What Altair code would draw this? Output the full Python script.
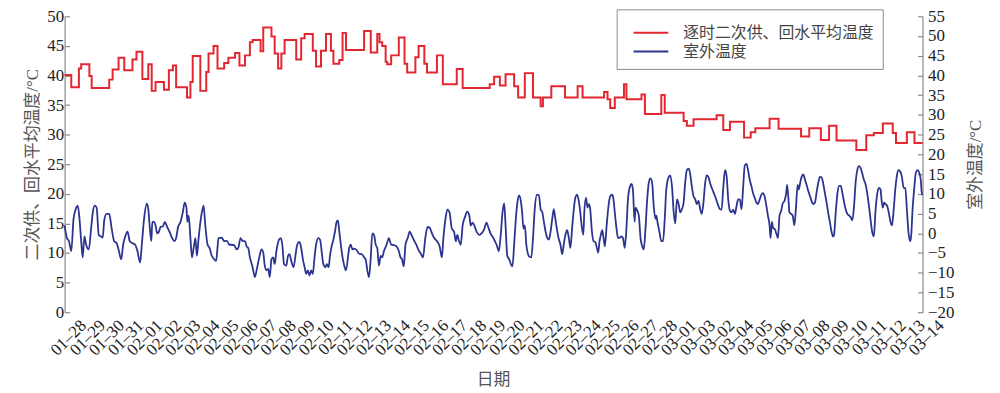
import altair as alt
import pandas as pd

# ---------------- data ----------------
SERIES = ["逐时二次供、回水平均温度", "室外温度"]
X_TITLE = ["日期"]

# supply/return average water temperature (left axis), step changes: day offset, value
red_day = [0, 0.35, 0.75, 0.87, 1.3, 1.42, 2.34, 2.52, 2.83, 3.13, 3.56, 3.77, 4.08, 4.39, 4.57,
           4.77, 5.21, 5.47, 5.68, 5.85, 6.42, 6.6, 6.72, 7.12, 7.43, 7.55, 7.81, 8.02, 8.37, 8.59,
           8.94, 9.17, 9.46, 9.72, 9.86, 10.28, 10.42, 10.85, 11.02, 11.2, 11.37, 11.54, 12.15,
           12.41, 12.59, 13.02, 13.19, 13.45, 13.71, 13.97, 14.1, 14.41, 14.58, 14.76, 15.71, 16.06,
           16.4, 16.52, 16.66, 16.84, 16.92, 17.13, 17.53, 17.83, 17.97, 18.4, 18.57, 18.87, 19.01,
           19.53, 19.84, 20.57, 20.88, 22.3, 22.53, 22.83, 23.13, 23.58, 23.79, 24.14, 24.57, 24.97,
           25.09, 25.53, 26.25, 26.91, 27.17, 28.3, 28.48, 28.62, 28.86, 29.34, 29.47, 30.26, 30.44,
           31.30, 31.48, 32.47, 32.64, 32.99, 34.2, 34.55, 34.9, 35.64, 35.99, 36.23, 36.98, 37.45,
           38.63, 39.06, 39.67, 40.1, 40.49, 41.53, 42.05, 42.45, 42.92, 43.44, 43.61, 44.18, 44.58,
           45.0]
red_val = [40.1, 38.0, 41.2, 41.9, 39.9, 37.9, 39.3, 41.0, 43.0, 40.9, 42.7, 44.0, 39.4, 41.9, 37.4,
           38.9, 37.6, 40.9, 41.7, 38.0, 36.3, 38.9, 43.3, 37.4, 40.6, 43.7, 45.0, 41.2, 42.1, 43.0,
           43.8, 41.7, 43.4, 45.6, 46.0, 44.1, 48.1, 46.6, 43.7, 41.2, 43.7, 46.0, 42.7,
           46.3, 47.0, 44.2, 41.5, 44.2, 47.0, 44.2, 42.0, 42.6, 47.2, 44.3, 47.5, 43.9,
           47.0, 45.6, 45.0, 42.3, 41.9, 43.4, 46.4, 42.0, 40.5, 43.1, 45.0, 42.0, 40.5,
           43.4, 38.5, 41.1, 37.9, 38.5, 39.8, 38.3, 40.2, 38.2, 36.3, 40.4, 36.3, 34.8,
           36.3, 38.2, 36.3, 38.2, 36.3, 37.2, 36.0, 34.5, 36.3, 38.5, 36.0, 36.8, 33.5,
           36.7, 33.7, 32.3, 31.5, 32.6, 33.3, 30.8, 32.2, 29.5, 30.4, 31.1, 32.7, 31.0,
           29.7, 31.1, 29.1, 31.5, 29.0, 27.4, 29.9, 30.3, 31.9, 30.3, 28.6, 30.4, 28.6,
           28.6]

# outdoor temperature (right axis), read in pieces
blue_day_1 = [0, 0.12, 0.23, 0.35, 0.47, 0.61, 0.69, 0.78, 0.87, 0.95, 1.04, 1.13, 1.27, 1.39, 1.48,
              1.58, 1.68, 1.79, 1.91, 2.0, 2.08, 2.2, 2.34, 2.47, 2.6, 2.73, 2.83, 2.97, 3.07, 3.18,
              3.3, 3.42, 3.56, 3.7, 3.82, 3.96, 4.05, 4.17, 4.31, 4.39, 4.46, 4.55, 4.6, 4.69, 4.77,
              4.86, 4.95, 5.03, 5.16, 5.26, 5.38, 5.5, 5.64, 5.75, 5.85, 5.95, 6.08, 6.2, 6.3, 6.39,
              6.44, 6.51, 6.6, 6.68, 6.77, 6.86, 6.94, 7.03, 7.17, 7.29]
blue_val_1 = [2.0, -1.2, -2.0, -4.5, 3.7, 6.5, 7.0, 3.7, -2.0, -6.1, -0.8, -2.9, -4.1, 1.2, 5.3,
              7.0, 6.5, -0.4, -0.8, -1.1, 3.3, 4.9, 4.9, 1.2, -2.0, -2.5, -4.1, -6.6, -2.9, -0.8,
              0.4, -2.0, -2.5, -2.9, -4.5, -7.4, -2.9, 3.7, 7.5, 6.1, 2.0, -2.0, 2.9, 2.9, 2.0,
              0.0, 0.4, 1.6, 1.8, 2.9, 1.6, 0.4, -1.2, -2.0, -1.2, 1.6, 2.9, 5.3, 7.8, 6.5,
              2.9, 4.5, -1.2, -6.1, -3.7, -1.2, -5.7, -1.2, 4.5, 7.0]

blue_day_2 = [7.38, 7.5, 7.6, 7.72, 7.85, 7.95, 8.02, 8.07, 8.24, 8.37, 8.51, 8.64, 8.77, 8.89, 9.03,
              9.11, 9.23, 9.34, 9.46, 9.55, 9.63, 9.72, 9.86, 9.98, 10.07, 10.21, 10.33, 10.42, 10.5,
              10.59, 10.68, 10.76, 10.85, 10.94, 11.02, 11.11, 11.25, 11.34, 11.42, 11.51, 11.63,
              11.72, 11.8, 11.89, 12.01, 12.12, 12.2, 12.32, 12.41, 12.5, 12.59, 12.67, 12.76, 12.85,
              12.93, 13.02, 13.11, 13.19, 13.31, 13.4, 13.5, 13.57, 13.68, 13.75, 13.85, 13.92,
              13.99, 14.1, 14.18, 14.27, 14.34, 14.41, 14.49, 14.58, 14.67, 14.76]
blue_val_2 = [2.0, -2.9, -3.7, -5.7, -6.6, -7.0, -3.7, -1.2, -1.1, -2.0, -1.9, -2.9, -2.9, -3.0, -4.1,
              -3.7, -1.2, -2.0, -2.0, -3.3, -3.7, -6.1, -8.6, -11.1, -9.4, -6.1, -4.1, -4.9, -8.2,
              -9.4, -9.0, -11.1, -6.6, -6.1, -7.8, -4.5, -1.6, -1.2, -2.9, -7.8, -8.2,
              -5.7, -5.3, -7.0, -8.6, -5.3, -2.9, -2.2, -3.7, -6.6, -8.6, -10.3, -9.4, -10.7,
              -9.4, -10.3, -6.1, -2.9, -1.2, -1.6, -5.3, -7.8, -8.6, -7.8, -8.6, -5.7,
              -3.7, -1.6, 0.4, 2.9, 3.3, 0.4, -2.9, -6.1, -8.2, -9.4]

blue_day_3 = [14.93, 15.01, 15.1, 15.19, 15.33, 15.45, 15.57, 15.71, 15.79, 15.88, 15.97, 16.06, 16.14,
              16.23, 16.32, 16.4, 16.49, 16.58, 16.66, 16.75, 16.89, 17.01, 17.13, 17.27, 17.41,
              17.53, 17.62, 17.7, 17.79, 17.88, 18.0, 18.1, 18.23, 18.35, 18.45, 18.57, 18.69, 18.8,
              18.92, 19.04, 19.15, 19.27, 19.39, 19.53, 19.67, 19.79, 19.87, 19.98, 20.08, 20.19,
              20.31, 20.43, 20.52, 20.6, 20.69, 20.78, 20.88, 21.0, 21.12, 21.23, 21.3, 21.4, 21.49,
              21.61, 21.75, 21.87, 21.99, 22.13, 22.22, 22.34]
blue_val_3 = [-3.7, -2.9, -4.1, -3.9, -4.3, -5.2, -5.2, -6.1, -6.6, -9.4, -11.1, -6.1, 0.0,
              -0.4, -2.9, -3.7, -8.2, -5.7, -6.1, -4.5, -2.9, -1.2, -2.9, -3.0, -3.3,
              -4.5, -6.1, -6.6, -8.4, -2.9, -1.2, 0.4, -0.8, -2.0, -2.9, -4.3, -5.2, -6.1,
              -1.2, 1.6, 1.4, 0.0, -1.2, -2.0, -3.3, -6.1, -1.2, 3.7, 6.0, 5.3,
              1.2, 0.4, -2.0, -0.4, -2.0, -2.9, 2.0, 4.1, 5.5, 4.5, 2.0, 2.7, 2.0,
              0.4, -0.4, 0.0, 0.8, 2.7, 1.6, 0.0]

blue_day_4 = [22.49, 22.57, 22.66, 22.78, 22.89, 22.97, 23.06, 23.13, 23.22, 23.32, 23.41, 23.49,
              23.58, 23.67, 23.75, 23.84, 23.93, 24.0, 24.07, 24.14, 24.22, 24.31, 24.4, 24.48,
              24.57, 24.66, 24.78, 24.88, 24.97, 25.06, 25.14, 25.23, 25.32, 25.4, 25.49, 25.58,
              25.66, 25.73, 25.82, 25.91, 26.01, 26.1, 26.18, 26.27, 26.36, 26.45, 26.53, 26.62,
              26.71, 26.79, 26.88, 26.97, 27.05, 27.12, 27.21, 27.26, 27.35, 27.43, 27.5, 27.57,
              27.66, 27.75, 27.83, 27.92, 27.99, 28.06, 28.13, 28.2, 28.27, 28.34, 28.42, 28.51,
              28.62, 28.72, 28.79, 28.86, 28.95, 29.03, 29.12, 29.21, 29.29, 29.38, 29.47, 29.55,
              29.66, 29.74, 29.81, 29.9]
blue_val_4 = [-1.2, -2.0, -2.9, -4.5, 0.4, 5.3, 7.6, 2.0, -5.7, -6.6, -7.8, -8.4,
              -2.9, 3.7, 7.8, 9.6, 8.2, 5.3, 1.2, 2.0, -2.9, -5.3, -6.0, -6.1,
              -1.2, 6.1, 9.8, 9.6, 6.1, 5.3, 2.9, 0.4, -1.2, -1.6, 0.4, 3.7,
              6.1, 4.1, 1.2, -1.2, -2.9, -5.3, -2.9, -0.4, 0.8, -1.2, -3.7, 1.2,
              6.1, 9.0, 9.8, 8.2, 5.3, 2.0, -0.4, 5.3, 9.0, 6.5, 7.4, 6.1,
              0.4, -2.0, -2.2, -3.7, -4.9, -2.0, -0.4, 0.8, -1.2, -3.3, 1.2, 6.1,
              9.4, 9.8, 8.6, 5.3, 1.2, -1.2, -1.1, -0.8, -1.2, -3.7, 1.2, 8.6,
              11.9, 12.5, 11.1, 2.9]

blue_day_5 = [29.95, 30.04, 30.12, 30.21, 30.3, 30.38, 30.47, 30.56, 30.64, 30.73, 30.82, 30.9,
              30.99, 31.04, 31.11, 31.2, 31.3, 31.39, 31.48, 31.56, 31.69, 31.77, 31.86, 31.95,
              32.03, 32.12, 32.21, 32.29, 32.38, 32.47, 32.55, 32.64, 32.73, 32.81, 32.9, 32.99,
              33.08, 33.16, 33.25, 33.34, 33.42, 33.51, 33.6, 33.68, 33.77, 33.86, 33.98, 34.12,
              34.26, 34.38, 34.46, 34.55, 34.64, 34.72, 34.81, 34.9, 34.98, 35.07, 35.16, 35.25,
              35.33, 35.42, 35.51, 35.59, 35.68, 35.77, 35.85, 35.94, 36.03, 36.11, 36.2, 36.29,
              36.37, 36.46, 36.55, 36.63, 36.72, 36.81, 36.89, 36.98, 37.03, 37.1, 37.17, 37.24,
              37.33, 37.42]
blue_val_5 = [6.5, 5.7, 4.5, -1.2, -3.3, -4.1, 1.2, 8.6, 12.7, 13.9, 12.7, 7.0,
              3.7, 4.5, 2.5, 0.4, -2.0, -2.0, 3.7, 11.1, 14.3, 14.7, 11.9, 5.3,
              2.5, 8.6, 7.4, 5.3, 6.1, 7.8, 12.7, 16.0, 16.4, 15.2, 11.9, 9.4,
              8.6, 7.4, 8.2, 6.1, 4.9, 7.8, 12.7, 14.7, 14.3, 12.7, 11.1, 9.4,
              7.4, 6.1, 6.0, 11.5, 16.0, 14.7, 8.6, 5.7, 5.3, 6.0, 4.9, 7.0,
              8.6, 8.6, 6.1, 11.5, 17.2, 17.6, 16.0, 13.5, 11.9, 10.2, 9.0, 7.8,
              7.4, 8.6, 9.8, 10.2, 9.3, 7.0, 4.5, 2.0, -1.2, 2.9, 1.2, 1.2,
              0.0, -1.2]

blue_day_6 = [37.5, 37.59, 37.67, 37.76, 37.85, 37.9, 37.97, 38.02, 38.11, 38.19, 38.28, 38.37,
              38.45, 38.51, 38.58, 38.66, 38.75, 38.84, 38.92, 39.01, 39.1, 39.18, 39.27, 39.36,
              39.44, 39.53, 39.62, 39.7, 39.79, 39.88, 39.97, 40.05, 40.14, 40.23, 40.31, 40.36,
              40.45, 40.54, 40.63, 40.71, 40.8, 40.89, 40.97, 41.06, 41.15, 41.23, 41.32, 41.41,
              41.49, 41.58, 41.67, 41.75, 41.84, 41.93, 42.01, 42.1, 42.19, 42.27, 42.36, 42.45,
              42.53, 42.62, 42.71, 42.8, 42.85, 42.92, 42.99, 43.06, 43.14, 43.23, 43.32, 43.4,
              43.49, 43.58, 43.66, 43.75, 43.84, 43.92, 44.01, 44.1, 44.18, 44.27, 44.36, 44.41,
              44.48, 44.57, 44.65, 44.74, 44.83, 44.91, 44.97, 45.0]
blue_val_6 = [4.5, 5.7, 7.6, 8.2, 10.2, 12.3, 8.6, 5.3, 4.9, 4.5, 2.0, 7.0,
              12.3, 11.1, 12.7, 14.3, 14.9, 13.5, 12.3, 10.7, 9.4, 8.2, 7.4, 7.8,
              10.2, 12.7, 14.3, 14.2, 12.7, 10.2, 7.8, 5.3, 2.9, 0.4, -0.8, -0.4,
              5.3, 10.2, 12.0, 12.0, 10.2, 7.8, 6.1, 4.9, 4.5, 4.1, 3.3, 7.0,
              12.7, 16.0, 17.0, 16.6, 15.2, 13.5, 12.5, 10.2, 7.0, 3.7, 0.4, -0.8,
              5.3, 9.8, 11.5, 11.1, 8.6, 6.5, 7.8, 7.4, 7.0, 5.3, 2.9, 2.0,
              6.1, 11.5, 14.7, 16.0, 15.6, 14.3, 11.5, 11.5, 6.1, 0.0, -2.0, -0.4,
              6.1, 11.5, 15.3, 16.0, 15.3, 13.5, 9.8, 10.2]

# x tick labels (as printed in the reference, including its 03-03 / 03-02 order)
x_labels = ["01–28", "01–29", "01–30", "01–31", "02–01", "02–02", "02–03", "02–04", "02–05",
            "02–06", "02–07", "02–08", "02–09", "02–10", "02–11", "02–12", "02–13", "02–14",
            "02–15", "02–16", "02–17", "02–18", "02–19", "02–20", "02–21", "02–22", "02–23",
            "02–24", "02–25", "02–26", "02–27", "02–28", "03–01", "03–03", "03–02", "03–04",
            "03–05", "03–06", "03–07", "03–08", "03–09", "03–10", "03–11", "03–12", "03–13",
            "03–14"]

left_ticks = list(range(0, 55, 5))
right_ticks = list(range(-20, 60, 5))

# ---------------- tables ----------------
blue_day = blue_day_1 + blue_day_2 + blue_day_3 + blue_day_4 + blue_day_5 + blue_day_6
blue_val = blue_val_1 + blue_val_2 + blue_val_3 + blue_val_4 + blue_val_5 + blue_val_6
red_df = pd.DataFrame({"day": red_day, "value": red_val, "series": SERIES[0]})
blue_df = pd.DataFrame({"day": blue_day, "value": blue_val, "series": SERIES[1]})
lab_df = pd.DataFrame({"pos": list(range(1, len(x_labels) + 1)), "label": x_labels})
xtitle_df = pd.DataFrame({"t": X_TITLE})

# ---------------- styling ----------------
W, H = 864, 298
RED = "#e3262f"
BLUE = "#2b3590"
LATIN = "Liberation Serif, Times New Roman, serif"
MIXED = "Liberation Serif, Noto Sans CJK SC"
CJK = "Noto Sans CJK SC"
AXIS_GRAY = "#8a8a8a"
INWARD = alt.ExprRef(expr="-5")

xscale = alt.Scale(domain=[0, 45], nice=False, zero=False)

color = alt.Color(
    "series:N",
    scale=alt.Scale(domain=SERIES, range=[RED, BLUE]),
    legend=alt.Legend(
        title=" ", titleFontSize=6, titlePadding=0,
        orient="none", legendX=556, legendY=-7, direction="vertical",
        strokeColor="#8a8a8a", fillColor="white", padding=8,
        symbolType="stroke", symbolSize=1225, symbolStrokeWidth=2, clipHeight=19,
        symbolOffset=8, labelOffset=14, rowPadding=0,
        labelFont=CJK, labelFontSize=16, labelColor="#444444", labelLimit=400,
    ),
)

red = alt.Chart(red_df).mark_line(interpolate="step-after", strokeWidth=2).encode(
    x=alt.X("day:Q", scale=xscale,
            axis=alt.Axis(values=list(range(1, 45)), labels=False, tickSize=INWARD, title=None)),
    y=alt.Y("value:Q", scale=alt.Scale(domain=[0, 50], nice=False, zero=False),
            axis=alt.Axis(values=left_ticks, format="d", tickSize=INWARD, labelPadding=6,
                          title="二次供、回水平均温度/°C", titlePadding=5)),
    color=color,
)

blue = alt.Chart(blue_df).mark_line(interpolate="monotone", strokeWidth=1.8).encode(
    x=alt.X("day:Q", scale=xscale, axis=None),
    y=alt.Y("value:Q", scale=alt.Scale(domain=[-20, 55], nice=False, zero=False),
            axis=alt.Axis(orient="right", values=right_ticks, format="d", tickSize=INWARD,
                          labelPadding=10, title="室外温度/°C", titleAngle=270, titlePadding=31)),
    color=color,
)

labels = alt.Chart(lab_df).mark_text(
    angle=315, align="right", baseline="middle", font=LATIN, fontSize=17, color="#222222"
).encode(
    x=alt.X("pos:Q", scale=xscale, axis=None),
    y=alt.value(H + 11),
    text="label:N",
)

xtitle = alt.Chart(xtitle_df).mark_text(
    align="center", baseline="middle", font=MIXED, fontSize=17, color="#555555"
).encode(
    x=alt.value(W / 2),
    y=alt.value(H + 68),
    text="t:N",
)

chart = (
    alt.layer(red, blue, labels, xtitle)
    .resolve_scale(y="independent")
    .properties(
        width=W, height=H,
        autosize=alt.AutoSizeParams(type="none"),
        padding={"left": 57, "top": 7, "right": 70, "bottom": 80},
    )
    .configure_view(stroke=None)
    .configure_axis(
        grid=False, domainColor=AXIS_GRAY, tickColor=AXIS_GRAY, domainWidth=1.2, tickWidth=1.2,
        labelFont=LATIN, labelFontSize=17, labelColor="#222222",
        titleFont=MIXED, titleFontSize=17, titleColor="#555555", titleFontWeight="normal",
    )
)

chart.save("out.html", embed_options={"renderer": "svg", "actions": False})
